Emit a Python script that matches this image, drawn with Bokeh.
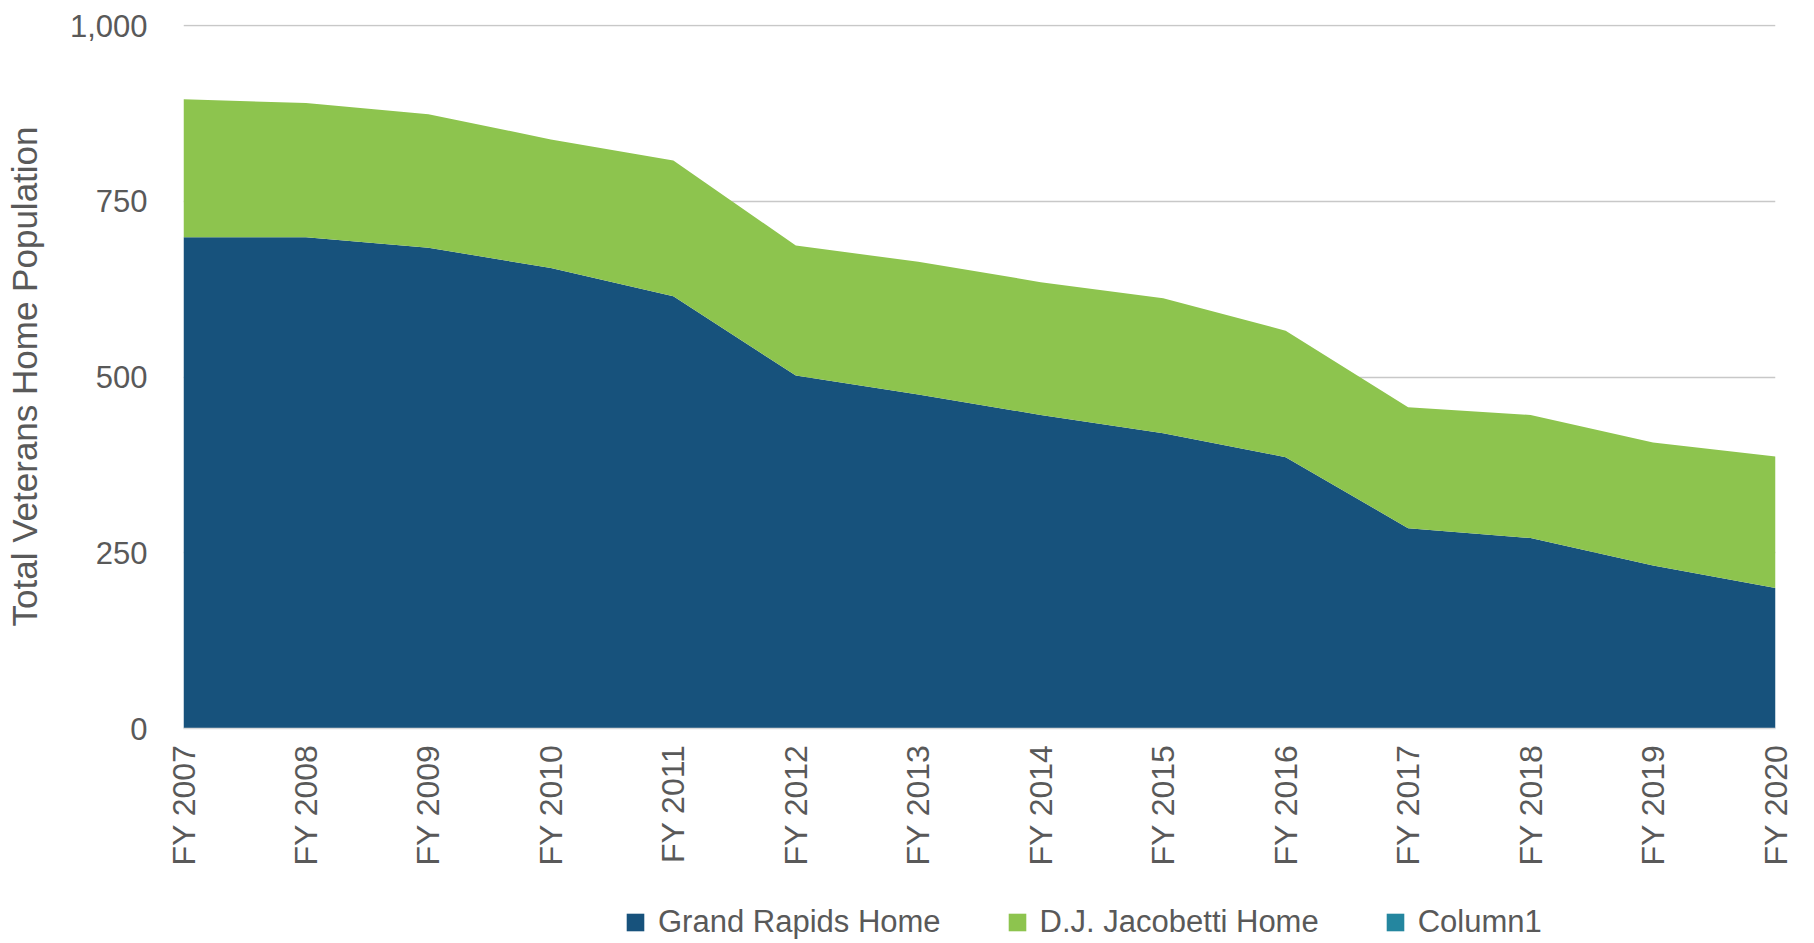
import math
from bokeh.plotting import figure
from bokeh.layouts import column
from bokeh.models import (Legend, LegendItem, FixedTicker, NumeralTickFormatter,
                          ColumnDataSource, Range1d)
from bokeh.embed import file_html
from bokeh.resources import INLINE

years = ["FY 2007", "FY 2008", "FY 2009", "FY 2010", "FY 2011", "FY 2012", "FY 2013",
         "FY 2014", "FY 2015", "FY 2016", "FY 2017", "FY 2018", "FY 2019", "FY 2020"]
grand_rapids = [699, 699, 684, 655, 615, 502, 475, 446, 420, 386, 285, 271, 232, 200]
jacobetti = [196, 191, 190, 183, 193, 185, 189, 189, 192, 180, 172, 175, 175, 187]
column1 = [0, 0, 0, 0, 0, 0, 0, 0, 0, 0, 0, 0, 0, 0]
y_ticks = [0, 250, 500, 750, 1000]

BLUE = "#17527C"
GREEN = "#8DC44E"
TEAL = "#24869F"
TXT = "#595959"
FONT = "Liberation Sans"

src = ColumnDataSource(dict(x=list(range(len(years))), gr=grand_rapids, dj=jacobetti, c1=column1))

# ---- main chart ----
p = figure(width=1798, height=870,
           x_range=Range1d(0, len(years) - 1), y_range=Range1d(0, 1001.5),
           output_backend="svg", toolbar_location=None,
           min_border_left=183, min_border_right=23, min_border_top=24, min_border_bottom=142)
p.outline_line_color = None
p.varea_stack(["gr", "dj", "c1"], x="x", source=src, color=[BLUE, GREEN, TEAL])

p.yaxis.ticker = FixedTicker(ticks=y_ticks)
p.yaxis.formatter = NumeralTickFormatter(format="0,0")
p.yaxis.axis_line_color = None
p.yaxis.major_tick_line_color = None
p.yaxis.minor_tick_line_color = None
p.yaxis.major_label_standoff = 30
p.yaxis.major_label_text_font = FONT
p.yaxis.major_label_text_font_size = "31px"
p.yaxis.major_label_text_color = TXT
p.yaxis.axis_label = "Total Veterans Home Population"
p.yaxis.axis_label_text_font = FONT
p.yaxis.axis_label_text_font_size = "35px"
p.yaxis.axis_label_text_font_style = "normal"
p.yaxis.axis_label_text_color = TXT
p.yaxis.axis_label_standoff = 23

p.xaxis.ticker = FixedTicker(ticks=list(range(len(years))))
p.xaxis.major_label_overrides = {i: y for i, y in enumerate(years)}
p.xaxis.major_label_orientation = math.pi / 2
p.xaxis.axis_line_color = "#D9D9D9"
p.xaxis.axis_line_width = 1.5
p.xaxis.major_tick_line_color = None
p.xaxis.minor_tick_line_color = None
p.xaxis.major_label_standoff = 10
p.xaxis.major_label_text_font = FONT
p.xaxis.major_label_text_font_size = "32px"
p.xaxis.major_label_text_color = TXT

p.xgrid.visible = False
p.ygrid.ticker = FixedTicker(ticks=y_ticks)
p.ygrid.grid_line_color = "#C8C8C8"
p.ygrid.grid_line_width = 1.5

# ---- legend strip below the chart ----
p2 = figure(width=1798, height=80, x_range=Range1d(-100, -99), y_range=Range1d(-100, -99),
            output_backend="svg", toolbar_location=None,
            x_axis_location=None, y_axis_location=None, min_border=0)
p2.outline_line_color = None
p2.grid.visible = False
lr = p2.varea_stack(["gr", "dj", "c1"], x="x", source=src, color=[BLUE, GREEN, TEAL])

legend = Legend(items=[LegendItem(label="Grand Rapids Home", renderers=[lr[0]]),
                       LegendItem(label="D.J. Jacobetti Home", renderers=[lr[1]]),
                       LegendItem(label="Column1", renderers=[lr[2]])],
                orientation="horizontal", location=(441, 10),
                glyph_width=22, glyph_height=22, label_standoff=12, spacing=65,
                padding=0, margin=0, border_line_color=None, background_fill_alpha=0,
                label_text_font=FONT, label_text_font_size="31px", label_text_color=TXT)
p2.add_layout(legend)

layout = column(p, p2, spacing=0)
open("out.html", "w").write(file_html(layout, INLINE))
